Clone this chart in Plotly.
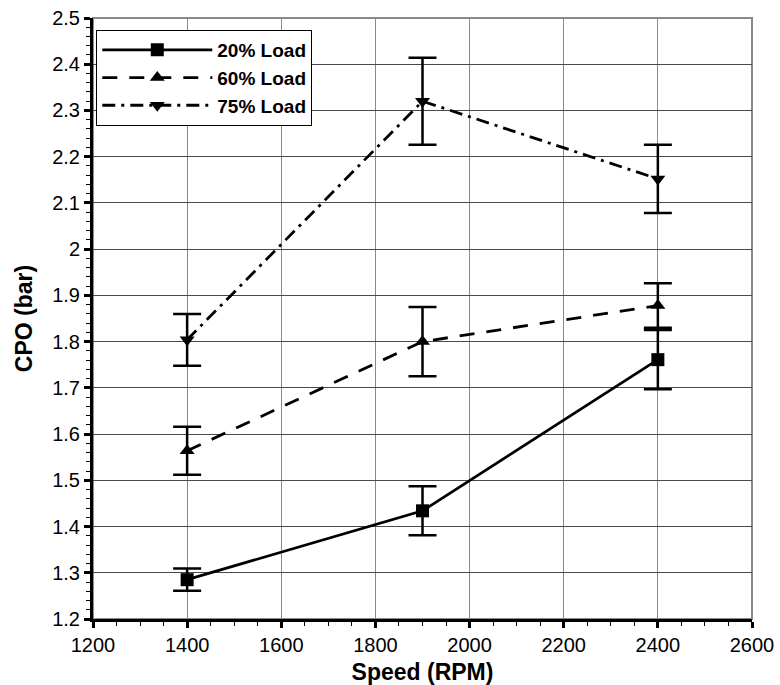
import plotly.graph_objects as go

speed = [1400, 1900, 2400]
load20 = [1.285, 1.434, 1.761]
load20_err = [0.024, 0.053, 0.064]
load60 = [1.564, 1.800, 1.878]
load60_err = [0.052, 0.075, 0.048]
load75 = [1.804, 2.320, 2.152]
load75_err = [0.056, 0.094, 0.074]

series = [
    ("20% Load", load20, load20_err, "solid", "square"),
    ("60% Load", load60, load60_err, "15px,12px", "triangle-up"),
    ("75% Load", load75, load75_err, "13px,6px,3px,6px", "triangle-down"),
]

fig = go.Figure()
for name, ys, errs, dash, sym in series:
    fig.add_trace(go.Scatter(
        x=speed, y=ys, name=name, mode="lines+markers",
        line=dict(color="black", width=2.8, dash=dash),
        marker=dict(symbol=sym, size=13, color="black"),
        error_y=dict(type="data", array=errs, visible=True,
                     color="black", thickness=2.5, width=14),
    ))

font_family = "Liberation Sans, Arial, sans-serif"
fig.update_layout(
    width=780, height=685,
    margin=dict(l=93, r=28, t=18, b=66),
    paper_bgcolor="white", plot_bgcolor="white",
    font=dict(family=font_family, color="black"),
    showlegend=True,
    legend=dict(
        x=0.005, y=0.98, xanchor="left", yanchor="top",
        bgcolor="white", bordercolor="black", borderwidth=1,
        font=dict(size=19, family=font_family, weight="bold"),
        itemwidth=110, tracegroupgap=0,
    ),
    xaxis=dict(
        range=[1200, 2600], dtick=200, tick0=1200,
        showline=True, linecolor="black", linewidth=3,
        ticks="outside", ticklen=6, tickwidth=3, tickcolor="black",
        minor=dict(dtick=50, ticks="outside", ticklen=4, tickwidth=1, tickcolor="black", showgrid=False),
        showgrid=True, gridcolor="#8a8a8a", gridwidth=1,
        zeroline=False, automargin=False,
        tickfont=dict(size=20, family=font_family),
        title=dict(text="Speed (RPM)", font=dict(size=23, family=font_family, weight="bold"), standoff=10),
    ),
    yaxis=dict(
        range=[1.2, 2.5], dtick=0.1, tick0=1.2,
        showline=True, linecolor="black", linewidth=3,
        ticks="outside", ticklen=6, tickwidth=3, tickcolor="black",
        minor=dict(dtick=0.02, ticks="outside", ticklen=4, tickwidth=1, tickcolor="black", showgrid=False),
        showgrid=True, gridcolor="#4a4a4a", gridwidth=1,
        zeroline=False, automargin=False,
        tickfont=dict(size=20, family=font_family),
        title=dict(text="CPO (bar)", font=dict(size=23, family=font_family, weight="bold"), standoff=14),
    ),
    shapes=[dict(type="rect", xref="paper", yref="paper", x0=0, y0=0, x1=1, y1=1,
                 line=dict(color="#8a8a8a", width=2), layer="below")],
)

fig.write_html("out.html")
